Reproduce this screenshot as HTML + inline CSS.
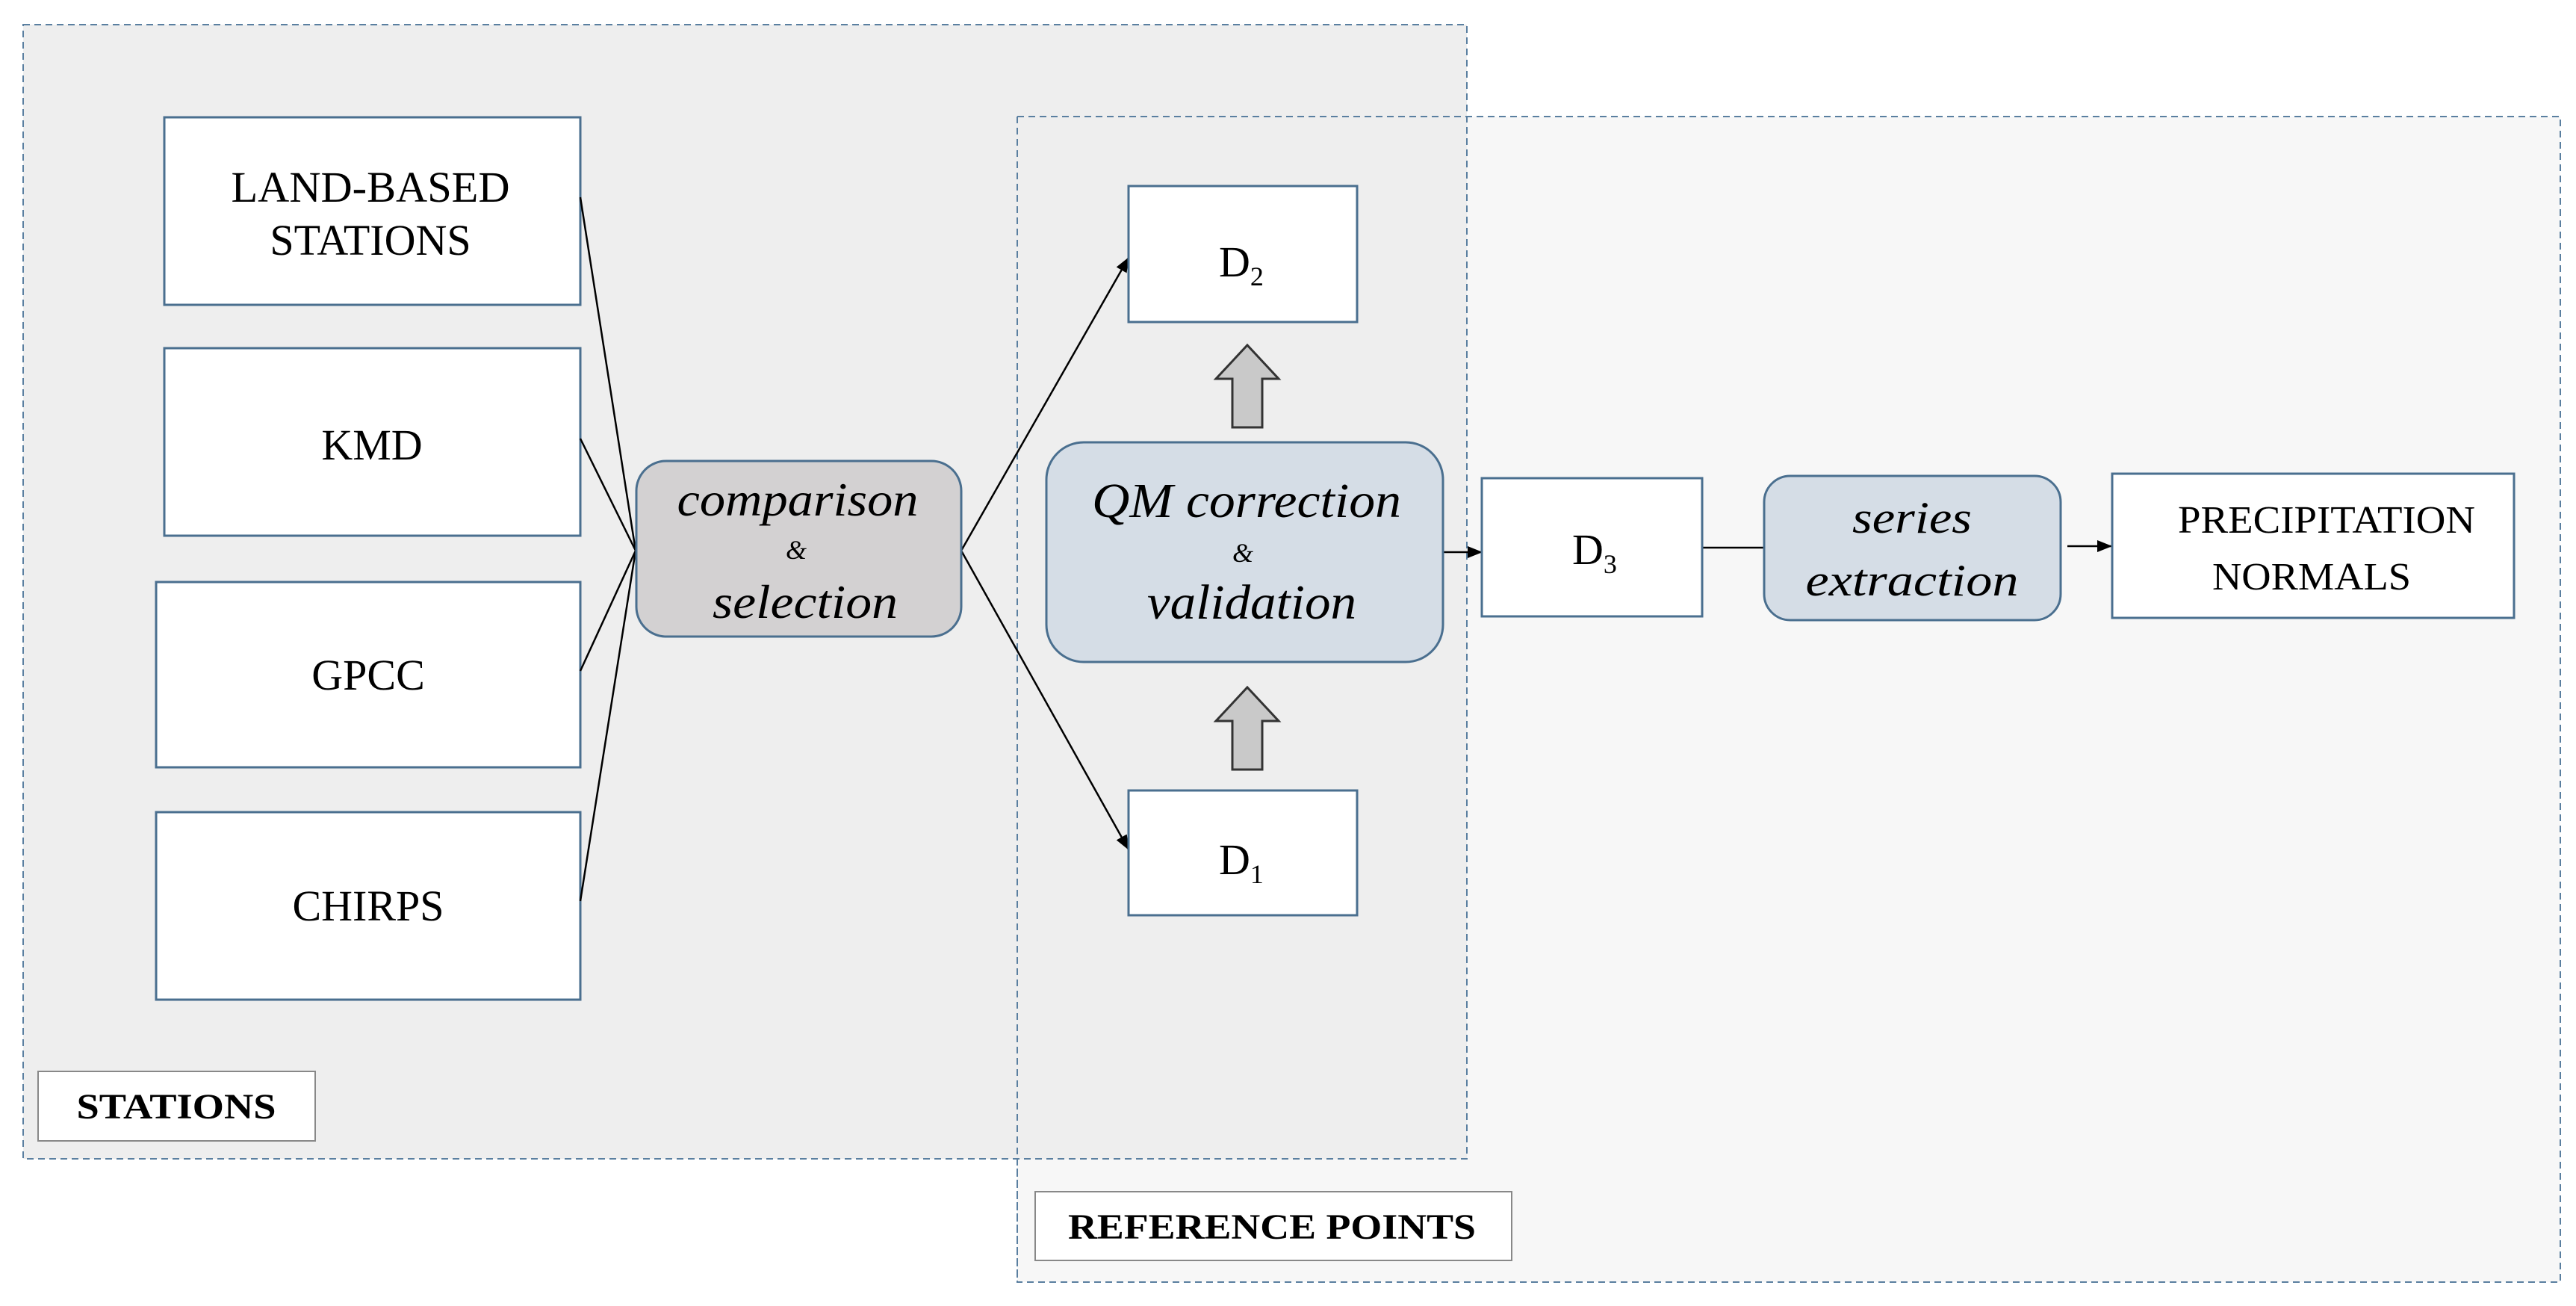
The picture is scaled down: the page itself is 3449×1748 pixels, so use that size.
<!DOCTYPE html>
<html><head><meta charset="utf-8"><style>html,body{margin:0;padding:0;background:#fff}svg{display:block}</style></head>
<body>
<svg width="3449" height="1748" viewBox="0 0 3449 1748" xmlns="http://www.w3.org/2000/svg" font-family="'Liberation Serif', serif">
<defs>
<marker id="ah" markerWidth="10" markerHeight="10" refX="9" refY="5" orient="auto" markerUnits="userSpaceOnUse"><path d="M0,0 L10,5 L0,10 z" fill="#000"/></marker>
<marker id="ah2" markerWidth="20" markerHeight="20" refX="19" refY="8" orient="auto" markerUnits="userSpaceOnUse"><path d="M0,0 L20,8 L0,16 z" fill="#000"/></marker>
</defs>
<rect width="3449" height="1748" fill="#fff"/>
<!-- reference points region -->
<rect x="1362" y="156" width="2066" height="1560" fill="#f7f7f7" stroke="#5a7fa0" stroke-width="2" stroke-dasharray="9,6"/>
<!-- stations region -->
<rect x="31" y="33" width="1933" height="1518" fill="#eeeeee" stroke="#5a7fa0" stroke-width="2" stroke-dasharray="9,6"/>
<line x1="1362" y1="156" x2="1362" y2="1716" stroke="#5a7fa0" stroke-width="2" stroke-dasharray="9,6"/>
<line x1="1362" y1="156" x2="1964" y2="156" stroke="#5a7fa0" stroke-width="2" stroke-dasharray="9,6"/>

<!-- left boxes -->
<g fill="#fff" stroke="#4a6f8f" stroke-width="3">
<rect x="220" y="157" width="557" height="251"/>
<rect x="220" y="466" width="557" height="251"/>
<rect x="209" y="779" width="568" height="248"/>
<rect x="209" y="1087" width="568" height="251"/>
</g>
<g font-size="58" text-anchor="middle" fill="#000">
<text x="496" y="270" textLength="373" lengthAdjust="spacingAndGlyphs">LAND-BASED</text>
<text x="496" y="341">STATIONS</text>
<text x="498" y="615">KMD</text>
<text x="493" y="923">GPCC</text>
<text x="493" y="1232">CHIRPS</text>
</g>

<!-- connectors -->
<g stroke="#000" stroke-width="2.5" fill="none">
<line x1="777" y1="264" x2="851" y2="737"/>
<line x1="777" y1="587" x2="851" y2="737"/>
<line x1="777" y1="898" x2="851" y2="737"/>
<line x1="777" y1="1206" x2="851" y2="737"/>
<line x1="1287" y1="737" x2="1511" y2="345" marker-end="url(#ah2)"/>
<line x1="1287" y1="737" x2="1511" y2="1137" marker-end="url(#ah2)"/>
<line x1="1906" y1="739" x2="1984" y2="739" marker-end="url(#ah2)"/>
<line x1="2279" y1="733" x2="2363" y2="733"/>
<line x1="2768" y1="731" x2="2827" y2="731" marker-end="url(#ah2)"/>
</g>

<!-- comparison -->
<rect x="852" y="617" width="435" height="235" rx="40" fill="#d3d1d2" stroke="#4a6f8f" stroke-width="3"/>
<g font-style="italic" text-anchor="middle" fill="#000">
<text x="1068" y="690" font-size="64" textLength="323" lengthAdjust="spacingAndGlyphs">comparison</text>
<text x="1066" y="748" font-size="36">&amp;</text>
<text x="1078" y="827" font-size="64" textLength="248" lengthAdjust="spacingAndGlyphs">selection</text>
</g>

<!-- QM -->
<rect x="1401" y="592" width="531" height="294" rx="50" fill="#d5dde6" stroke="#4a6f8f" stroke-width="3"/>
<g font-style="italic" text-anchor="middle" fill="#000">
<text x="1669" y="692" font-size="66" textLength="414" lengthAdjust="spacingAndGlyphs">QM correction</text>
<text x="1664" y="752" font-size="36">&amp;</text>
<text x="1676" y="828" font-size="66" textLength="280" lengthAdjust="spacingAndGlyphs">validation</text>
</g>

<!-- D boxes -->
<g fill="#fff" stroke="#4a6f8f" stroke-width="3">
<rect x="1511" y="249" width="306" height="182"/>
<rect x="1511" y="1058" width="306" height="167"/>
<rect x="1984" y="640" width="295" height="185"/>
<rect x="2828" y="634" width="538" height="193"/>
</g>
<g font-size="58" fill="#000">
<text x="1632" y="370">D<tspan font-size="36" dy="12">2</tspan></text>
<text x="1632" y="1170">D<tspan font-size="36" dy="12">1</tspan></text>
<text x="2105" y="755">D<tspan font-size="36" dy="12">3</tspan></text>
</g>

<!-- up block arrows -->
<g fill="#c9c9c9" stroke="#333" stroke-width="3">
<path d="M1650,572 L1650,507 L1628,507 L1670,462 L1712,507 L1690,507 L1690,572 Z"/>
<path d="M1650,1030 L1650,965 L1628,965 L1670,920 L1712,965 L1690,965 L1690,1030 Z"/>
</g>

<!-- series extraction -->
<rect x="2362" y="637" width="397" height="193" rx="35" fill="#d5dde6" stroke="#4a6f8f" stroke-width="3"/>
<g font-style="italic" text-anchor="middle" fill="#000" font-size="60">
<text x="2560" y="713" textLength="160" lengthAdjust="spacingAndGlyphs">series</text>
<text x="2560" y="797" textLength="285" lengthAdjust="spacingAndGlyphs">extraction</text>
</g>
<g font-size="52" text-anchor="middle" fill="#000">
<text x="3115" y="713" textLength="398" lengthAdjust="spacingAndGlyphs">PRECIPITATION</text>
<text x="3095" y="789" textLength="266" lengthAdjust="spacingAndGlyphs">NORMALS</text>
</g>

<!-- labels -->
<rect x="51" y="1434" width="371" height="93" fill="#fff" stroke="#888" stroke-width="2"/>
<text x="236" y="1497" font-size="48" font-weight="bold" text-anchor="middle" textLength="267" lengthAdjust="spacingAndGlyphs">STATIONS</text>
<rect x="1386" y="1595" width="638" height="92" fill="#fff" stroke="#888" stroke-width="2"/>
<text x="1703" y="1658" font-size="48" font-weight="bold" text-anchor="middle" textLength="546" lengthAdjust="spacingAndGlyphs">REFERENCE POINTS</text>
</svg>
</body></html>
